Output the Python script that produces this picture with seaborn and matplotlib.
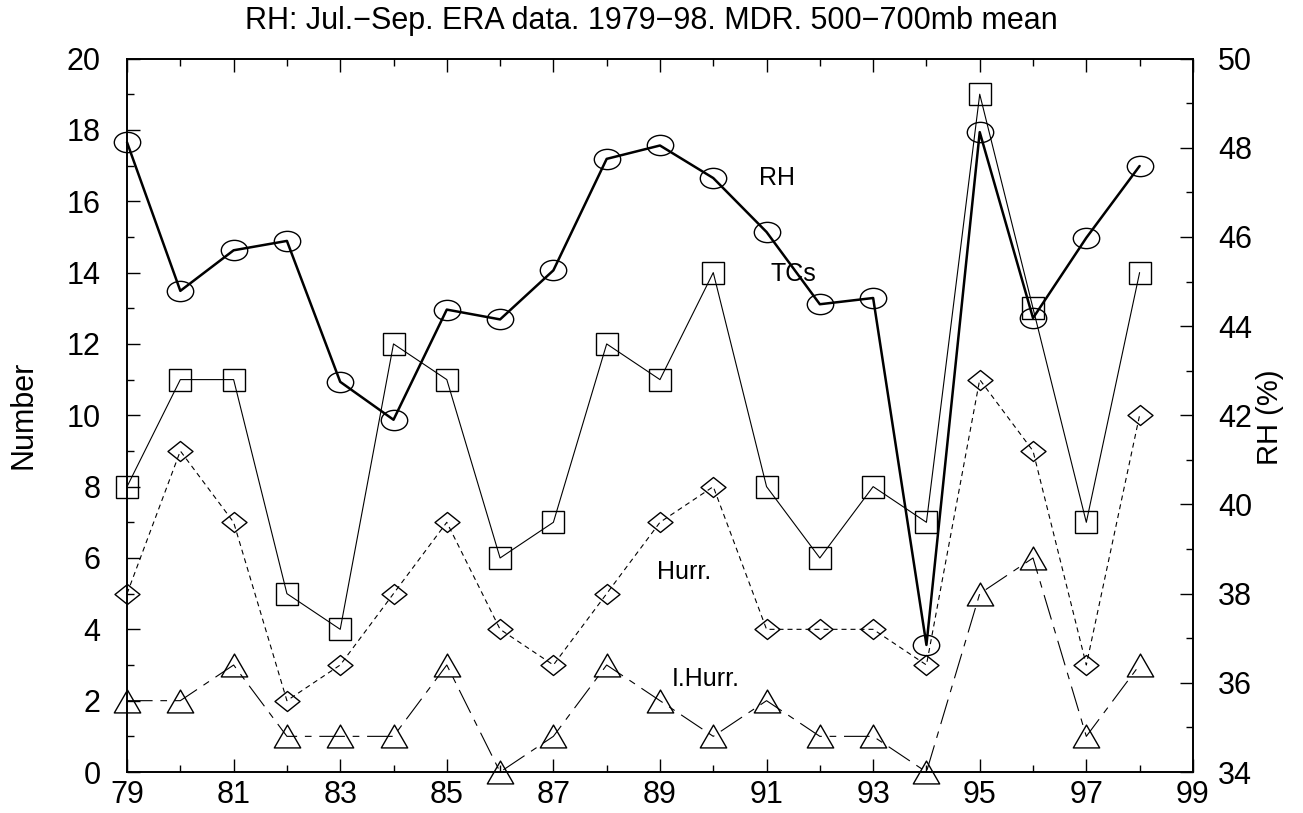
import numpy as np
import pandas as pd
import matplotlib
matplotlib.use("Agg")
import matplotlib.pyplot as plt
import seaborn as sns
from matplotlib.path import Path
from matplotlib.transforms import Affine2D
from matplotlib.ticker import MultipleLocator, FixedLocator

years = [79, 80, 81, 82, 83, 84, 85, 86, 87, 88, 89, 90, 91, 92, 93, 94, 95, 96, 97, 98]
tcs = [8, 11, 11, 5, 4, 12, 11, 6, 7, 12, 11, 14, 8, 6, 8, 7, 19, 13, 7, 14]
hurr = [5, 9, 7, 2, 3, 5, 7, 4, 3, 5, 7, 8, 4, 4, 4, 3, 11, 9, 3, 10]
ihurr = [2, 2, 3, 1, 1, 1, 3, 0, 1, 3, 2, 1, 2, 1, 1, 0, 5, 6, 1, 3]
rh = [48.12, 44.79, 45.7, 45.91, 42.75, 41.9, 44.37, 44.15, 45.25, 47.75,
      48.05, 47.32, 46.11, 44.49, 44.63, 36.85, 48.35, 44.18, 45.98, 47.59]
x_ticklabels = ["79", "81", "83", "85", "87", "89", "91", "93", "95", "97", "99"]

sns.set_style("ticks")
plt.rcParams['font.family'] = ['Liberation Sans', 'DejaVu Sans']
plt.rcParams.update({"text.color": "black", "axes.labelcolor": "black",
                     "xtick.color": "black", "ytick.color": "black",
                     "axes.edgecolor": "black"})

df = pd.DataFrame({"year": years, "TCs": tcs, "Hurr": hurr, "IHurr": ihurr, "RH": rh})

fig = plt.figure(figsize=(13.03, 8.13), dpi=100)
ax = fig.add_axes([0.0975, 0.0504, 0.818, 0.8776])
ax2 = ax.twinx()

ellipse = Path.unit_circle().transformed(Affine2D().scale(1.3, 1.0))
diamond = Path([(1.25, 0), (0, 1), (-1.25, 0), (0, -1), (1.25, 0)],
               [Path.MOVETO, Path.LINETO, Path.LINETO, Path.LINETO, Path.CLOSEPOLY])
triangle = Path([(-1, -0.866), (1, -0.866), (0, 0.866), (-1, -0.866)],
                [Path.MOVETO, Path.LINETO, Path.LINETO, Path.CLOSEPOLY])

common = dict(color="black", markerfacecolor="none", markeredgecolor="black",
              markeredgewidth=1.0)
sns.lineplot(data=df, x="year", y="TCs", ax=ax, lw=0.8, marker="s",
             markersize=15.5, **common)
sns.lineplot(data=df, x="year", y="Hurr", ax=ax, lw=0.8,
             linestyle=(0, (4.5, 3.6)), marker=diamond, markersize=18, **common)
sns.lineplot(data=df, x="year", y="IHurr", ax=ax, lw=0.8,
             linestyle=(0, (23, 7, 6, 7)), marker=triangle, markersize=19, **common)
sns.lineplot(data=df, x="year", y="RH", ax=ax2, lw=1.8, marker=ellipse,
             markersize=19, **common)

ax.set_xlim(79, 99)
ax.set_ylim(0, 20)
ax2.set_ylim(34, 50)

ax.xaxis.set_major_locator(FixedLocator([int(t) for t in x_ticklabels]))
ax.set_xticklabels(x_ticklabels)
ax.xaxis.set_minor_locator(MultipleLocator(1))
ax.yaxis.set_major_locator(MultipleLocator(2))
ax.yaxis.set_minor_locator(MultipleLocator(1))
ax2.yaxis.set_major_locator(MultipleLocator(2))
ax2.yaxis.set_minor_locator(MultipleLocator(1))

ax.tick_params(axis="both", which="major", direction="in", length=9.5, width=1,
               labelsize=22, top=True, right=False, colors="black")
ax.tick_params(axis="y", which="major", pad=19)
ax.tick_params(axis="x", which="major", pad=6)
ax.tick_params(axis="both", which="minor", direction="in", length=5, width=1,
               top=True, right=False, colors="black")
ax2.tick_params(axis="y", which="major", direction="in", length=9.5, width=1,
                labelsize=22, pad=18, colors="black")
ax2.tick_params(axis="y", which="minor", direction="in", length=5, width=1,
                colors="black")

for a in (ax, ax2):
    for s in a.spines.values():
        s.set_linewidth(1.2)
        s.set_color("black")

ax.set_xlabel("")
ax.set_ylabel("")
ax2.set_ylabel("")
fig.text(23 / 1303, 1 - 415 / 813, "Number", fontsize=22, rotation=90,
         ha="center", va="center", color="black")
fig.text(1270 / 1303, 1 - 417 / 813, "RH (%)", fontsize=21, rotation=90,
         ha="center", va="center", color="black")
fig.text(651 / 1303, 1 - 21 / 813,
         "RH: Jul.\u2212Sep. ERA data. 1979\u221298. MDR. 500\u2212700mb mean",
         fontsize=22, ha="center", va="center", color="black")

ax.text(91.2, 16.65, "RH", fontsize=18, ha="center", va="center", color="black")
ax.text(91.5, 13.95, "TCs", fontsize=18, ha="center", va="center", color="black")
ax.text(89.45, 5.6, "Hurr.", fontsize=18, ha="center", va="center", color="black")
ax.text(89.85, 2.6, "I.Hurr.", fontsize=18, ha="center", va="center", color="black")

for a in (ax, ax2):
    for line in a.get_lines():
        line.set_clip_on(False)

fig.savefig("out.png", dpi=100)
